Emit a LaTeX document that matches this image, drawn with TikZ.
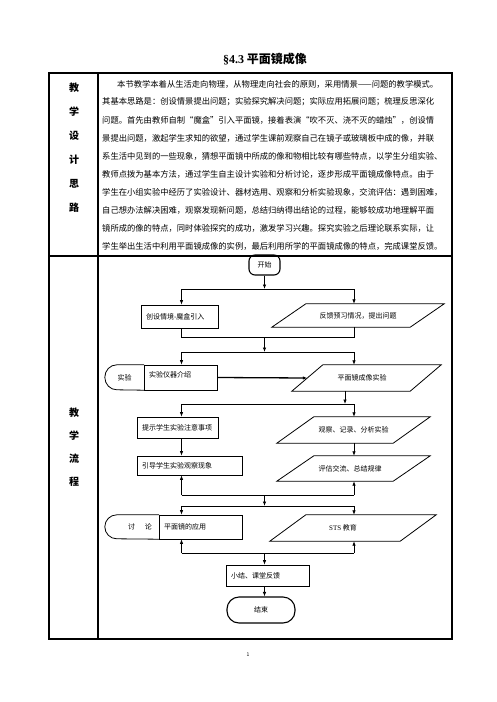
\documentclass[tikz,border=0pt]{standalone}
\usepackage{fontspec}
\setmainfont{Noto Sans CJK SC}
\newfontfamily\latinserif{Liberation Serif}
\usetikzlibrary{arrows.meta,calc}
\XeTeXlinebreaklocale "zh"
\XeTeXlinebreakskip=0pt plus 1pt
\newcommand\pgram[2]{\draw[shapeline] ([xshift=#2]#1.north west) -- ([xshift=#2]#1.north east) -- ([xshift=-#2]#1.south east) -- ([xshift=-#2]#1.south west) -- cycle;}
\tikzset{
  tbl/.style={line width=1.1pt},
  fl/.style={line width=0.75pt},
  arr/.style={fl,-{Latex[length=4.5pt,width=3.5pt]}},
  shapeline/.style={line width=0.8pt},
  fbox/.style={draw,shapeline,inner xsep=5pt,inner ysep=1pt,align=left,font=\fontsize{7}{8}\selectfont},
  pnode/.style={inner sep=0pt,font=\fontsize{7}{8}\selectfont},
  lab/.style={font=\bfseries\fontsize{10}{12}\selectfont},
  bodyline/.style={anchor=west,inner sep=0pt,align=justify,font=\fontsize{8.3}{10}\selectfont},
}
\begin{document}
\begin{tikzpicture}[x=1pt,y=-1pt]
\useasboundingbox (0,0) rectangle (496,702);
% title
\node[font=\bfseries\fontsize{12}{14}\selectfont] (title) at (265,59) {{\latinserif\bfseries §4.3} 平面镜成像};
% table
\draw[tbl] (49,73) rectangle (452,639);
\draw[tbl] (98,73) -- (98,639);
\draw[tbl] (49,256) -- (452,256);
% left labels
\node[lab] (d1) at (74,88) {教};
\node[lab] (d2) at (74,112) {学};
\node[lab] (d3) at (74,136) {设};
\node[lab] (d4) at (74,160) {计};
\node[lab] (d5) at (74,184) {思};
\node[lab] (d6) at (74,208) {路};
\node[lab] (f1) at (74,413) {教};
\node[lab] (f2) at (74,436) {学};
\node[lab] (f3) at (74,459) {流};
\node[lab] (f4) at (74,482) {程};
% paragraph
\node[bodyline,text width=333pt] (t1) at (117,84) {\noindent\parfillskip=0pt 本节教学本着从生活走向物理，从物理走向社会的原则，采用情景——问题的教学模式。};
\node[bodyline,text width=347pt] (t2) at (102,102) {\noindent\parfillskip=0pt 其基本思路是：创设情景提出问题；实验探究解决问题；实际应用拓展问题；梳理反思深化};
\node[bodyline,text width=347pt] (t3) at (102,120) {\noindent\parfillskip=0pt 问题。首先由教师自制“魔盒”引入平面镜，接着表演“吹不灭、浇不灭的蜡烛”，创设情};
\node[bodyline,text width=347pt] (t4) at (102,138) {\noindent\parfillskip=0pt 景提出问题，激起学生求知的欲望，通过学生课前观察自己在镜子或玻璃板中成的像，并联};
\node[bodyline,text width=347pt] (t5) at (102,156) {\noindent\parfillskip=0pt 系生活中见到的一些现象，猜想平面镜中所成的像和物相比较有哪些特点，以学生分组实验、};
\node[bodyline,text width=347pt] (t6) at (102,174) {\noindent\parfillskip=0pt 教师点拨为基本方法，通过学生自主设计实验和分析讨论，逐步形成平面镜成像特点。由于};
\node[bodyline,text width=347pt] (t7) at (102,192) {\noindent\parfillskip=0pt 学生在小组实验中经历了实验设计、器材选用、观察和分析实验现象，交流评估：遇到困难，};
\node[bodyline,text width=347pt] (t8) at (102,210) {\noindent\parfillskip=0pt 自己想办法解决困难，观察发现新问题，总结归纳得出结论的过程，能够较成功地理解平面};
\node[bodyline,text width=347pt] (t9) at (102,228) {\noindent\parfillskip=0pt 镜所成的像的特点，同时体验探究的成功，激发学习兴趣。探究实验之后理论联系实际，让};
\node[bodyline,text width=347pt] (t10) at (102,246) {\noindent\parfillskip=0pt 学生举出生活中利用平面镜成像的实例，最后利用所学的平面镜成像的特点，完成课堂反馈。};
% column x positions
\coordinate (L) at (181.5,0);
\coordinate (M) at (264.5,0);
\coordinate (R) at (354,0);
\coordinate (K) at (345,0);
% flowchart nodes
\node[draw,line width=1.1pt,rounded corners=6pt,minimum width=31pt,minimum height=20pt,inner sep=0pt,font=\fontsize{7}{8}\selectfont] (start) at (264.5,265) {开始};
\node[fbox,text width=67pt,minimum height=23pt] (r1) at (179.5,316.5) {创设情境-魔盒引入};
\node[pnode,minimum width=138pt,minimum height=23pt] (p1) at (358,315.5) {反馈预习情况，提出问题};
\pgram{p1}{17pt}
\node[pnode,minimum width=39pt,minimum height=25pt] (s1) at (124.5,377.5) {实验};
\draw[shapeline] (s1.north east) -- ([xshift=12pt]s1.north west) arc[start angle=90,end angle=270,x radius=12pt,y radius=12.5pt] -- (s1.south east);
\node[fbox,text width=63pt,minimum height=25pt,text depth=5pt] (r2) at (180.5,377.5) {实验仪器介绍};
\node[pnode,minimum width=118pt,minimum height=26pt] (p2) at (366.5,378) {\hspace*{-9pt}平面镜成像实验};
\pgram{p2}{15.5pt}
\node[fbox,text width=71pt,minimum height=21pt] (r3) at (177.5,427.5) {提示学生实验注意事项};
\node[pnode,minimum width=116pt,minimum height=26pt] (p3) at (353.5,430) {观察、记录、分析实验};
\pgram{p3}{18.5pt}
\node[fbox,text width=95pt,minimum height=19pt] (r4) at (189.5,465.5) {引导学生实验观察现象};
\node[pnode,minimum width=116pt,minimum height=25pt] (p4) at (353.5,468.5) {\hspace*{-7pt}评估交流、总结规律};
\pgram{p4}{18.5pt}
\node[pnode,minimum width=54pt,minimum height=24pt] (s2) at (132,527) {\hspace*{16pt}讨\hspace{9.7pt}论};
\draw[shapeline] (s2.north east) -- ([xshift=12pt]s2.north west) arc[start angle=90,end angle=270,x radius=12pt,y radius=12pt] -- (s2.south east);
\node[fbox,text width=73pt,minimum height=24pt] (r5) at (200.5,527) {平面镜的应用};
\node[pnode,minimum width=130pt,minimum height=26pt] (p5) at (353,528) {\hspace*{-20pt}{\latinserif STS} 教育};
\pgram{p5}{18pt}
\node[fbox,text width=73pt,minimum height=21pt] (r6) at (267.5,575.5) {小结、课堂反馈};
\node[draw,line width=1.1pt,rounded corners=12pt,minimum width=68pt,minimum height=26pt,inner sep=0pt,font=\fontsize{7}{8}\selectfont] (end) at (261,610) {结束};
% junctions
\coordinate (j1) at (264.5,289);
\coordinate (j2) at (264.5,337);
\coordinate (j3) at (264.5,352);
\coordinate (j4) at (264.5,404);
\coordinate (j5) at (264.5,495);
\coordinate (j6) at (264.5,506);
\coordinate (j7) at (264.5,553);
% connectors
\draw[arr] (start.south) -- (j1);
\draw[fl] (j1 -| L) -- (j1 -| R);
\draw[arr] (j1 -| L) -- (L |- r1.north);
\draw[arr] (j1 -| R) -- (R |- p1.north);
\draw[fl] (L |- r1.south) -- (j2 -| L) -- (j2 -| R) -- (R |- p1.south);
\draw[arr] (j2) -- (j3);
\draw[fl] (j3 -| L) -- (j3 -| R);
\draw[arr] (j3 -| L) -- (L |- r2.north);
\draw[arr] (j3 -| R) -- (R |- p2.north);
\draw[arr,line width=1.3pt] (r2.east) -- (p2.west);
\draw[arr] (K |- p2.south) -- (K |- j4);
\draw[fl] (j4 -| L) -- (j4 -| R);
\draw[arr] (j4 -| L) -- (L |- r3.north);
\draw[arr] (j4 -| R) -- (R |- p3.north);
\draw[arr] (L |- r3.south) -- (L |- r4.north);
\draw[arr] (R |- p3.south) -- (R |- p4.north);
\draw[fl] (j5 -| L) -- (j5 -| R);
\draw[arr] (j5 -| L) -- (L |- r4.south);
\draw[arr] (j5 -| R) -- (R |- p4.south);
\draw[arr] (j5) -- (j6);
\draw[fl] (j6 -| L) -- (j6 -| R);
\draw[arr] (j6 -| L) -- (L |- r5.north);
\draw[arr] (j6 -| R) -- (R |- p5.north);
\draw[fl] (j7 -| L) -- (j7 -| R);
\draw[arr] (j7 -| L) -- (L |- r5.south);
\draw[arr] (j7 -| R) -- (R |- p5.south);
\draw[arr] (j7) -- (M |- r6.north);
\draw[arr] (M |- r6.south) -- (M |- end.north);
% page number
\node[font=\fontsize{5}{6}\selectfont] (pg) at (248,655) {1};
\end{tikzpicture}
\end{document}
